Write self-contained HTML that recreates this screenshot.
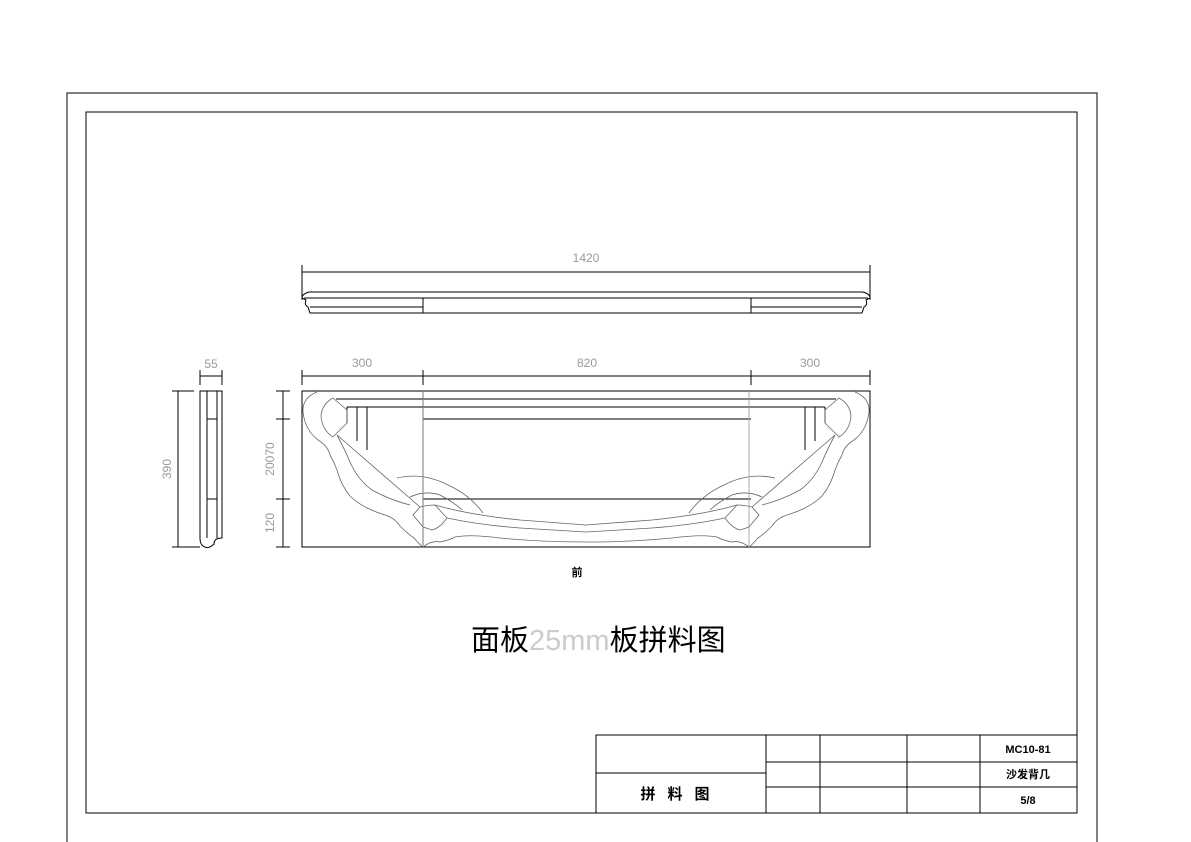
<!DOCTYPE html>
<html><head><meta charset="utf-8"><style>
html,body{margin:0;padding:0;background:#fff;}
svg{display:block;}
</style></head><body>
<svg width="1191" height="842" viewBox="0 0 1191 842" xmlns="http://www.w3.org/2000/svg">
<g stroke="#000" stroke-width="1" fill="none">
<!-- outer frames -->
<polyline points="67,842 67,93 1097,93 1097,842"/>
<rect x="86" y="112" width="991" height="701"/>
<!-- title block -->
<rect x="596" y="735" width="481" height="78"/>
<line x1="766" y1="735" x2="766" y2="813"/>
<line x1="820" y1="735" x2="820" y2="813"/>
<line x1="907" y1="735" x2="907" y2="813"/>
<line x1="980" y1="735" x2="980" y2="813"/>
<line x1="596" y1="773" x2="766" y2="773"/>
<line x1="766" y1="762" x2="1077" y2="762"/>
<line x1="766" y1="787" x2="1077" y2="787"/>

<!-- top view -->
<line x1="302" y1="265" x2="302" y2="300"/>
<line x1="870" y1="265" x2="870" y2="300"/>
<line x1="302" y1="272" x2="870" y2="272"/>
<path d="M309,292 H863 Q870,294 870,298 L866,300 Q868,305 864,307 L862,313 H310 L308,307 Q304,305 306,300 L302,298 Q302,294 309,292Z"/>
<line x1="304" y1="298" x2="868" y2="298"/>
<line x1="310" y1="307" x2="423" y2="307"/>
<line x1="751" y1="307" x2="862" y2="307"/>
<line x1="423" y1="298" x2="423" y2="313"/>
<line x1="751" y1="298" x2="751" y2="313"/>

<!-- front dims -->
<line x1="302" y1="370" x2="302" y2="385"/>
<line x1="423" y1="370" x2="423" y2="385"/>
<line x1="751" y1="370" x2="751" y2="385"/>
<line x1="870" y1="370" x2="870" y2="385"/>
<line x1="302" y1="376" x2="870" y2="376"/>
<line x1="283" y1="391" x2="283" y2="547"/>
<line x1="276" y1="391" x2="290" y2="391"/>
<line x1="276" y1="419" x2="290" y2="419"/>
<line x1="276" y1="499" x2="290" y2="499"/>
<line x1="276" y1="547" x2="290" y2="547"/>

<!-- front view -->
<rect x="302" y="391" width="568" height="156"/>
<line x1="423" y1="391" x2="423" y2="547"/>
<line x1="336" y1="399" x2="836" y2="399"/>
<line x1="347" y1="407" x2="825" y2="407"/>
<line x1="423" y1="419" x2="751" y2="419"/>
<line x1="423" y1="499" x2="751" y2="499"/>
<line x1="347" y1="407" x2="347" y2="423"/>
<line x1="357" y1="407" x2="357" y2="441"/>
<line x1="367" y1="407" x2="367" y2="450"/>
<line x1="825" y1="407" x2="825" y2="423"/>
<line x1="815" y1="407" x2="815" y2="441"/>
<line x1="805" y1="407" x2="805" y2="450"/>

<!-- side view -->
<line x1="200" y1="370" x2="200" y2="385"/>
<line x1="222" y1="370" x2="222" y2="385"/>
<line x1="200" y1="376" x2="222" y2="376"/>
<line x1="178" y1="391" x2="178" y2="547"/>
<line x1="172" y1="391" x2="194" y2="391"/>
<line x1="172" y1="547" x2="200" y2="547"/>
<path d="M200,391 H222 V538 Q214,538 214,544 Q208,550 203,546 Q200,544 200,538Z"/>
<line x1="207" y1="391" x2="207" y2="538"/>
<line x1="217" y1="391" x2="217" y2="538"/>
<line x1="207" y1="419" x2="217" y2="419"/>
<line x1="207" y1="499" x2="217" y2="499"/>
</g>

<!-- carvings -->
<g id="lc" stroke="#666" stroke-width="0.8" fill="none">
<path d="M317,392 Q302,398 303,412 Q305,430 318,440 Q328,446 330,455 Q334,462 337,470 Q341,485 350,496 Q362,508 385,515 Q395,518 400,526 Q408,534 414,538 Q420,545 423,547"/>
<path d="M333,398 L347,410 L347,423 L333,437 Q322,430 321,416 Q322,404 333,398Z"/>
<path d="M337,435 L420,507"/>
<path d="M337,435 Q345,450 350,462 Q358,480 372,490 Q390,500 410,505"/>
<path d="M420,507 L413,515 L423,527 L432,530 Q440,528 447,518 L435,505 Q428,505 420,507Z"/>
<path d="M397,478 Q423,472 448,485 Q470,495 483,513"/>
<path d="M410,497 Q425,490 440,495 Q455,503 462,510"/>
<path d="M435,505 Q470,515 520,520 Q586,525 586,525"/>
<path d="M447,518 Q480,525 520,528 Q586,532 586,532"/>
<path d="M423,547 Q432,540 440,542 Q450,540 455,537 Q470,534 500,538 Q540,542 586,542"/>
<line x1="423" y1="391" x2="423" y2="547" stroke="#999"/>
</g>
<use href="#lc" transform="translate(1172,0) scale(-1,1)"/>

<g font-family="Liberation Sans, sans-serif" fill="#999" font-size="12">
<text x="586" y="262" text-anchor="middle">1420</text>
<text x="211" y="368" text-anchor="middle">55</text>
<text x="362" y="367" text-anchor="middle">300</text>
<text x="587" y="367" text-anchor="middle">820</text>
<text x="810" y="367" text-anchor="middle">300</text>
<text transform="translate(171,469) rotate(-90)" text-anchor="middle">390</text>
<text transform="translate(274,459) rotate(-90)" text-anchor="middle">20070</text>
<text transform="translate(274,523) rotate(-90)" text-anchor="middle">120</text>
</g>
<g font-family="Liberation Sans, 'Noto Sans CJK SC', sans-serif" fill="#000">
<text x="577" y="576" font-size="11" text-anchor="middle" font-weight="bold">前</text>
<text x="471" y="650" font-size="29">面板<tspan fill="#ccc">25mm</tspan>板拼料图</text>
<text x="681" y="799" font-size="15" font-weight="bold" text-anchor="middle" letter-spacing="12">拼料图</text>
<text x="1028" y="753" font-size="11" font-weight="bold" text-anchor="middle">MC10-81</text>
<text x="1028" y="778" font-size="11" font-weight="bold" text-anchor="middle">沙发背几</text>
<text x="1028" y="804" font-size="11" font-weight="bold" text-anchor="middle">5/8</text>
</g>
</svg>
</body></html>
